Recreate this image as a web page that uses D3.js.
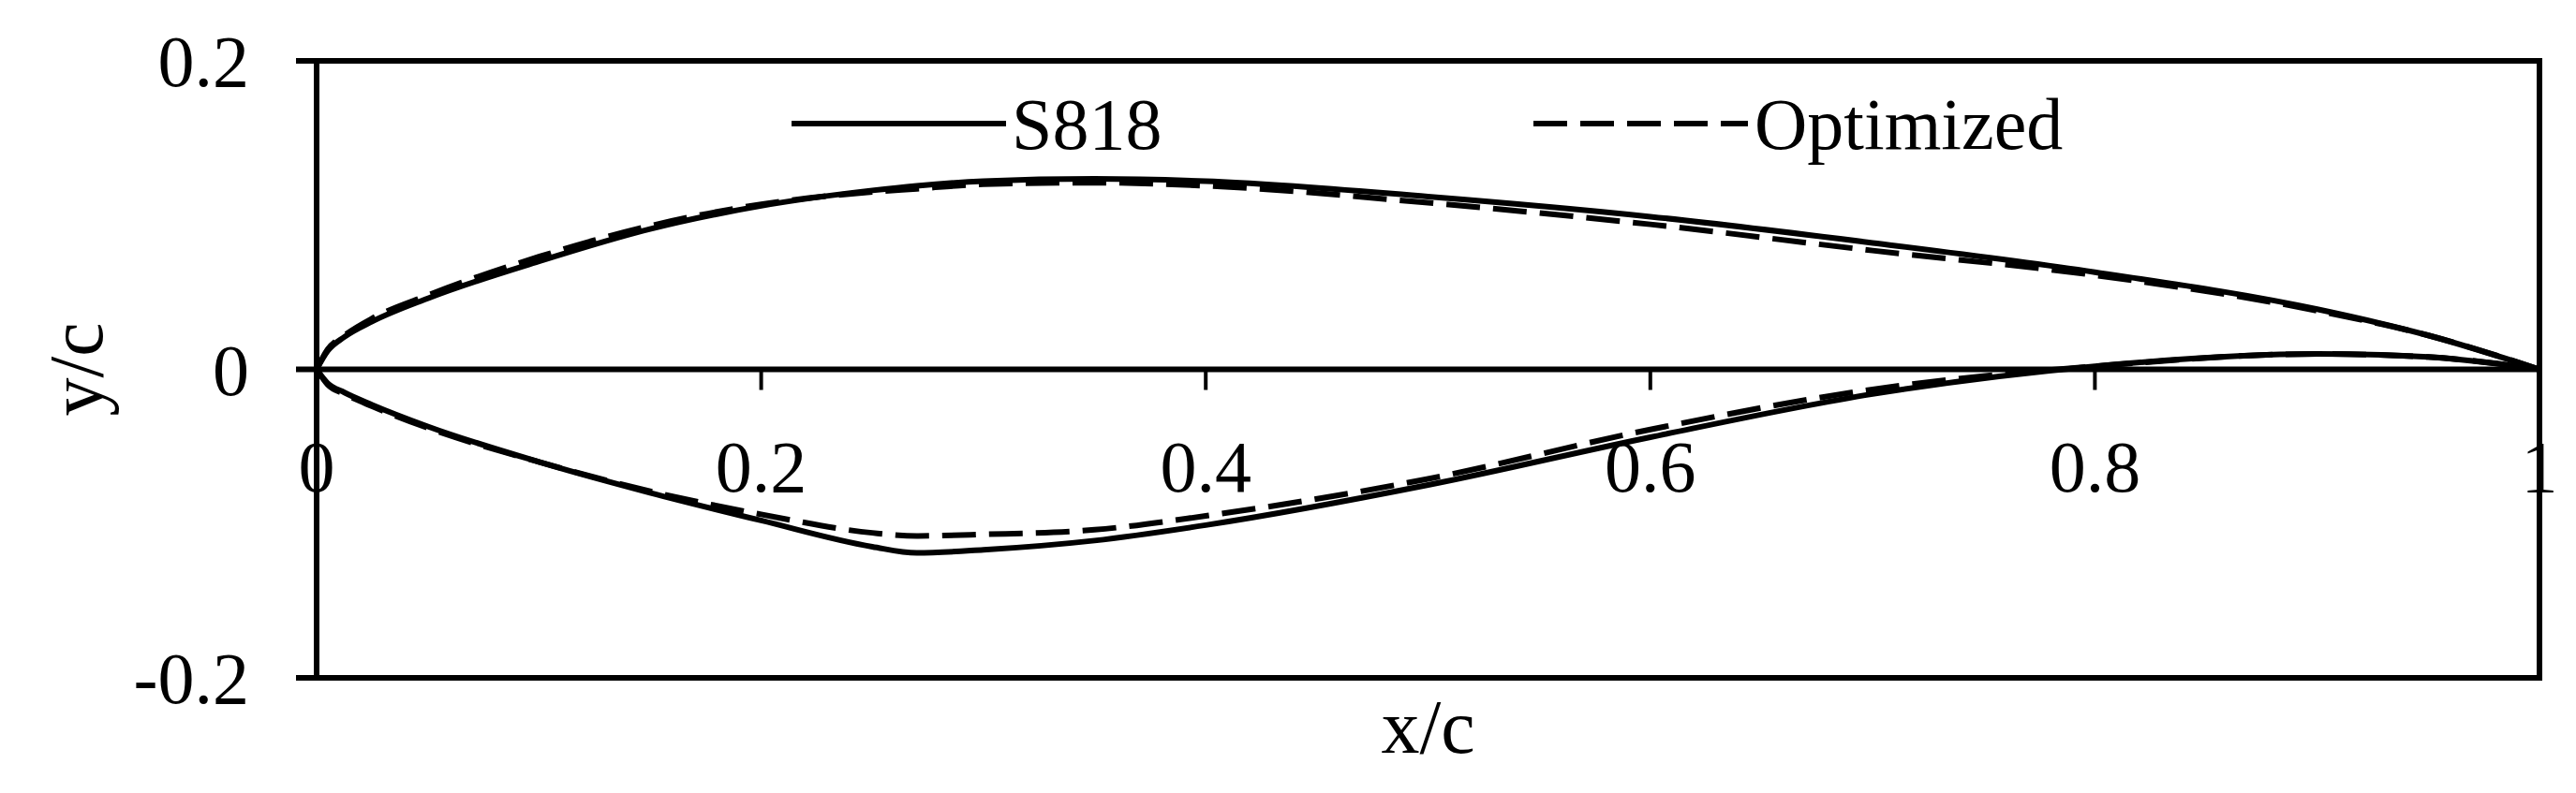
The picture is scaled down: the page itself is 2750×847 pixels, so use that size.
<!DOCTYPE html><html><head><meta charset="utf-8">
<script src="https://cdn.jsdelivr.net/npm/d3@7"></script>
<style>body{margin:0;background:#fff}text{font-family:"Liberation Serif","Times New Roman",serif;fill:#000}</style>
</head><body><svg id="c" width="2750" height="847"></svg>
<script>
const xTicks=[0,0.2,0.4,0.6,0.8,1];
const yTicks=[-0.2,0,0.2];
const tickLabelsX=["0","0.2","0.4","0.6","0.8","1"];
const tickLabelsY=["-0.2","0","0.2"];
const seriesNames=["S818","Optimized"];
const xs818=[0,0.005,0.0125,0.025,0.05,0.1,0.15,0.2,0.25,0.27,0.3,0.35,0.4,0.5,0.6,0.7,0.8,0.9,0.95,1];
const s818Upper=[0,0.012,0.021,0.031,0.046,0.070,0.091,0.106,0.116,0.119,0.122,0.1235,0.122,0.112,0.099,0.082,0.063,0.039,0.022,0];
const s818Lower=[0,-0.009,-0.015,-0.023,-0.037,-0.060,-0.080,-0.098,-0.115,-0.119,-0.117,-0.111,-0.101,-0.075,-0.044,-0.016,0.002,0.010,0.008,0];
const optUpper=[0,0.013,0.022,0.033,0.048,0.073,0.093,0.107,0.115,0.117,0.120,0.121,0.119,0.108,0.094,0.077,0.061,0.038,0.022,0];
const optLower=[0,-0.010,-0.016,-0.024,-0.038,-0.060,-0.079,-0.094,-0.106,-0.108,-0.107,-0.104,-0.095,-0.071,-0.039,-0.013,0.002,0.010,0.008,0];

const svg=d3.select("#c");
const L=338,R=2711,T=65,B=724;
const FS=78;
const x=d3.scaleLinear().domain([0,1]).range([L,R]);
const y=d3.scaleLinear().domain([-0.2,0.2]).range([B,T]);
svg.append("rect").attr("x",L).attr("y",T).attr("width",R-L).attr("height",B-T).attr("fill","none").attr("stroke","#000").attr("stroke-width",6);
yTicks.forEach((v,i)=>{
  svg.append("line").attr("x1",L-22).attr("x2",L).attr("y1",y(v)).attr("y2",y(v)).attr("stroke","#000").attr("stroke-width",6);
  svg.append("text").attr("x",L-72).attr("y",y(v)).attr("dy","0.35em").attr("text-anchor","end").attr("font-size",FS).text(tickLabelsY[i]);
});
svg.append("line").attr("x1",L).attr("x2",R).attr("y1",y(0)).attr("y2",y(0)).attr("stroke","#000").attr("stroke-width",6);
xTicks.forEach((v,i)=>{
  if(i>0&&i<xTicks.length-1) svg.append("line").attr("x1",x(v)).attr("x2",x(v)).attr("y1",y(0)).attr("y2",y(0)+22).attr("stroke","#000").attr("stroke-width",4);
  svg.append("text").attr("x",x(v)).attr("y",y(0)+103).attr("dy","0.35em").attr("text-anchor","middle").attr("font-size",FS).text(tickLabelsX[i]);
});
svg.append("text").attr("x",(L+R)/2).attr("y",775).attr("dy","0.35em").attr("text-anchor","middle").attr("font-size",82).text("x/c");
svg.append("text").attr("transform",`translate(80,${y(0)}) rotate(-90)`).attr("dy","0.35em").attr("text-anchor","middle").attr("font-size",82).text("y/c");
const line=d3.line().x(d=>x(d[0])).y(d=>y(d[1])).curve(d3.curveMonotoneX);
const draw=(arr,dash)=>svg.append("path").attr("d",line(xs818.map((v,i)=>[v,arr[i]]))).attr("fill","none").attr("stroke","#000").attr("stroke-width",6).attr("stroke-dasharray",dash);
draw(s818Upper,null);draw(s818Lower,null);
draw(optUpper,"36 14");draw(optLower,"36 14");
const ly=132;
svg.append("line").attr("x1",845).attr("x2",1074).attr("y1",ly).attr("y2",ly).attr("stroke","#000").attr("stroke-width",6);
svg.append("text").attr("x",1080).attr("y",ly).attr("dy","0.35em").attr("font-size",FS).text(seriesNames[0]);
svg.append("line").attr("x1",1637).attr("x2",1866).attr("y1",ly).attr("y2",ly).attr("stroke","#000").attr("stroke-width",6).attr("stroke-dasharray","36 14");
svg.append("text").attr("x",1873).attr("y",ly).attr("dy","0.35em").attr("font-size",FS).text(seriesNames[1]);
</script></body></html>
